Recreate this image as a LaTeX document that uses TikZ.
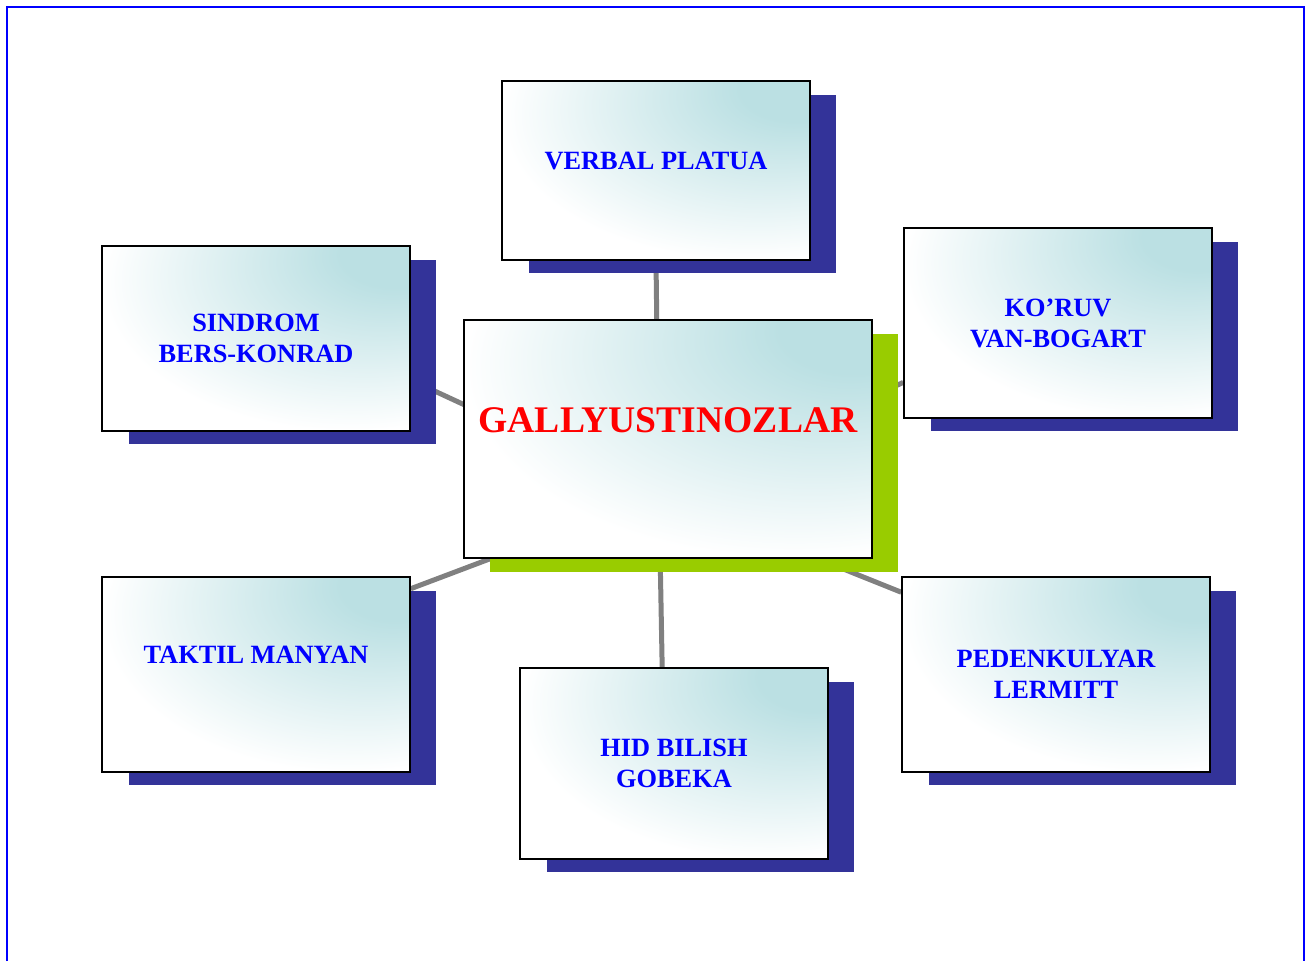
\documentclass[tikz,border=0pt]{standalone}
\usepackage{fontspec}
\setmainfont{Liberation Serif}
\usepackage{xcolor}
\usepackage{tikz}
\usetikzlibrary{shadows,backgrounds}

\definecolor{glowc}{RGB}{187,224,227}
\definecolor{shadowblue}{RGB}{51,51,153}
\definecolor{shadowgreen}{RGB}{153,204,0}
\definecolor{linkgray}{RGB}{128,128,128}
\pgfdeclareradialshading{boxglow}{\pgfpoint{25bp}{25bp}}{color(0bp)=(glowc); color(9bp)=(glowc); color(40bp)=(white); color(100bp)=(white)}
\newcommand{\liftup}[2]{\raisebox{#1}[\height][\depth]{#2}}

\begin{document}
\begin{tikzpicture}[x=0.02cm,y=-0.02cm]
  \tikzstyle{card}=[draw,line width=0.9pt,shade,shading=boxglow,align=center,inner sep=2pt]
  \tikzstyle{sidecard}=[card,minimum width=6.16cm,text=blue,font=\bfseries\fontsize{15}{17.6}\selectfont,general shadow={fill=shadowblue,shadow xshift=0.53cm,shadow yshift=-0.27cm}]
  \useasboundingbox (0,0) rectangle (1309,961);
  \draw[blue,line width=0.04cm] (7,961) -- (7,7) -- (1304,7) -- (1304,961);
  \node[sidecard,minimum height=3.58cm] (verbal) at (656,170.5) {\liftup{0.2cm}{VERBAL PLATUA}};
  \node[sidecard,minimum height=3.7cm] (sindrom) at (256,338.5) {SINDROM\\BERS-KONRAD};
  \node[sidecard,minimum height=3.8cm] (koruv) at (1058,323) {KO’RUV\\VAN-BOGART};
  \node[card,minimum width=8.16cm,minimum height=4.76cm,text=red,font=\bfseries\fontsize{21.4}{25}\selectfont,
        general shadow={fill=shadowgreen,shadow xshift=0.52cm,shadow yshift=-0.28cm}] (gally) at (668,439) {\liftup{0.38cm}{GALLYUSTINOZLAR}};
  \node[sidecard,minimum height=3.9cm] (taktil) at (256,674.5) {\liftup{0.39cm}{TAKTIL MANYAN}};
  \node[sidecard,minimum height=3.82cm] (hid) at (674,763.5) {HID BILISH\\GOBEKA};
  \node[sidecard,minimum height=3.9cm] (pedenk) at (1056,674.5) {PEDENKULYAR\\LERMITT};
  % spokes behind the cards
  \begin{scope}[on background layer]
    \coordinate (hub) at (659,495);
    \foreach \b in {verbal.south,sindrom.-15,koruv.201,taktil.29,hid.97,pedenk.152}
      \draw[linkgray,line width=0.1cm] (hub) -- (\b);
  \end{scope}
\end{tikzpicture}
\end{document}
